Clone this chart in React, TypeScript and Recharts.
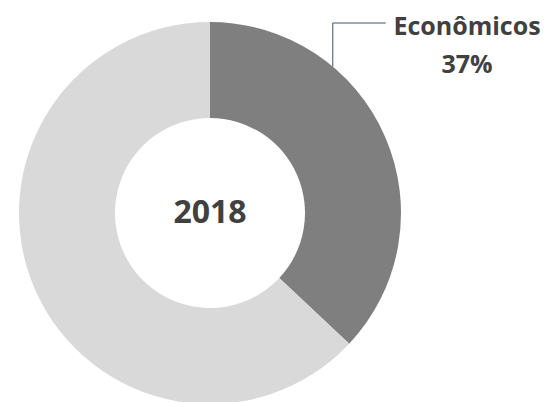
import { Cell, Pie, PieChart } from "recharts";

// valores (participação %)
const CATEGORIES = ["Econômicos", "Outros"];
const VALUES = [37, 63];
const YEAR = "2018";

const COLORS = ["#7F7F7F", "#D9D9D9"];
const TEXT = "#404040";
const FONT = "'Open Sans', 'Noto Sans', sans-serif";

const data = CATEGORIES.map((label, i) => ({ label, value: VALUES[i] }));

// rótulo só da fatia escura (linha guia em cotovelo) + ano no centro do anel
function LeaderLabel(props: any) {
  const { cx, cy, outerRadius, index, percent, name } = props;
  if (index !== 0) return null;
  const RAD = Math.PI / 180;
  const a = 50 * RAD; // ponto de saída na borda externa
  const x0 = cx + outerRadius * Math.cos(a);
  const y0 = cy - outerRadius * Math.sin(a);
  const yTop = cy - outerRadius + 1;
  const x1 = x0 + 53;
  const tx = cx + outerRadius + 66;
  return (
    <g>
      <path
        d={`M${x0},${y0} L${x0},${yTop} L${x1},${yTop}`}
        stroke="#44546A"
        strokeWidth={1}
        fill="none"
      />
      <text
        x={tx}
        y={yTop + 2}
        textAnchor="middle"
        dominantBaseline="central"
        fill={TEXT}
        fontFamily={FONT}
        fontWeight={700}
        fontSize={25}
      >
        {name}
      </text>
      <text
        x={tx}
        y={yTop + 40}
        textAnchor="middle"
        dominantBaseline="central"
        fill={TEXT}
        fontFamily={FONT}
        fontWeight={700}
        fontSize={25}
      >
        {`${Math.round(percent * 100)}%`}
      </text>
      <text
        x={cx}
        y={cy - 3}
        textAnchor="middle"
        dominantBaseline="central"
        fill={TEXT}
        fontFamily={FONT}
        fontWeight={700}
        fontSize={32}
      >
        {YEAR}
      </text>
    </g>
  );
}

export default function App() {
  return (
    <div style={{ position: "absolute", left: 0, top: 0, background: "#fff" }}>
      <PieChart
        width={554}
        height={402}
        margin={{ top: 0, right: 0, bottom: 0, left: 0 }}
      >
        <Pie
          data={data}
          dataKey="value"
          nameKey="label"
          cx={210}
          cy={213}
          innerRadius={95}
          outerRadius={191}
          startAngle={90}
          endAngle={-270}
          stroke="none"
          label={LeaderLabel}
          labelLine={false}
          isAnimationActive={false}
        >
          {data.map((_, i) => (
            <Cell key={i} fill={COLORS[i]} />
          ))}
        </Pie>
      </PieChart>
    </div>
  );
}
